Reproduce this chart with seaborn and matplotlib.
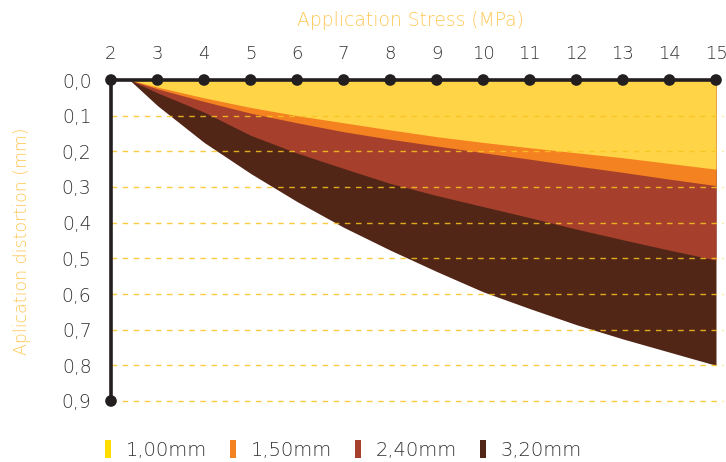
import numpy as np
import pandas as pd
import matplotlib
matplotlib.use("Agg")
import matplotlib.pyplot as plt
from matplotlib.patches import Patch
import seaborn as sns

# dados
stress = [2.4, 3, 4, 5, 6, 7, 8, 9, 10, 11, 12, 13, 14, 15]
dist_100 = [0, 0.02, 0.05, 0.077, 0.10, 0.12, 0.14, 0.159, 0.175, 0.19, 0.204, 0.218, 0.234, 0.25]
dist_150 = [0, 0.025, 0.06, 0.093, 0.12, 0.145, 0.166, 0.185, 0.204, 0.222, 0.241, 0.259, 0.278, 0.296]
dist_240 = [0, 0.036, 0.09, 0.155, 0.205, 0.248, 0.29, 0.324, 0.355, 0.386, 0.418, 0.448, 0.477, 0.505]
dist_320 = [0, 0.072, 0.175, 0.262, 0.341, 0.413, 0.477, 0.537, 0.594, 0.641, 0.686, 0.726, 0.763, 0.80]

series = ["1,00mm", "1,50mm", "2,40mm", "3,20mm"]
fill_colors = ["#FFD447", "#F58220", "#A6402C", "#522617"]
legend_colors = ["#FFDD00", "#F58220", "#A6402C", "#522617"]

x_ticks = list(range(2, 16))
y_ticks = [0.0, 0.1, 0.2, 0.3, 0.4, 0.5, 0.6, 0.7, 0.8, 0.9]
y_labels = ["0,0", "0,1", "0,2", "0,3", "0,4", "0,5", "0,6", "0,7", "0,8", "0,9"]

df = pd.DataFrame({"stress": stress, series[0]: dist_100, series[1]: dist_150,
                   series[2]: dist_240, series[3]: dist_320})

sns.set_theme(style="white")
plt.rcParams["font.family"] = ["DejaVu Sans"]
fw = 200  # DejaVu Sans ExtraLight

fig = plt.figure(figsize=(7.26, 4.62), dpi=100)
ax = fig.add_axes([111 / 726, 1 - 401 / 462, 605 / 726, 321 / 462])

# areas: da mais profunda para a mais rasa
for name, col in zip(series[::-1], fill_colors[::-1]):
    ax.fill_between(df["stress"], 0, df[name], color=col, linewidth=0, zorder=1)

# linhas tracejadas
for yv in y_ticks[1:]:
    ax.plot([2, 15.15], [yv, yv], color="#F9C320", lw=1, ls=(0, (4, 4)),
            alpha=0.85, zorder=2, clip_on=False)

# eixos com pontos
ax.plot([2, 15], [0, 0], color="#231F20", lw=2.6, zorder=3, clip_on=False, solid_capstyle="butt")
ax.plot([2, 2], [0, 0.9], color="#231F20", lw=2.6, zorder=3, clip_on=False, solid_capstyle="butt")
sns.scatterplot(x=x_ticks, y=[0] * len(x_ticks), ax=ax, color="#231F20", s=70,
                edgecolor="none", zorder=4, clip_on=False)
sns.scatterplot(x=[2], y=[0.9], ax=ax, color="#231F20", s=70,
                edgecolor="none", zorder=4, clip_on=False)

ax.set_xlim(2, 15)
ax.set_ylim(0.9, 0)
for sp in ax.spines.values():
    sp.set_visible(False)

ax.xaxis.tick_top()
ax.set_xticks(x_ticks)
ax.set_xticklabels([str(v) for v in x_ticks], fontweight=fw)
ax.set_yticks(y_ticks)
ax.set_yticklabels(y_labels, fontweight=fw)
ax.tick_params(axis="x", length=0, pad=12, labelsize=13, labelcolor="#333333")
ax.tick_params(axis="y", length=0, pad=14, labelsize=13.5, labelcolor="#333333")

fig.text(410 / 726, 1 - 21 / 462, "Application Stress (MPa)", ha="center",
         va="center", fontsize=13.5, color="#FFC857", fontweight=fw)
fig.text(22 / 726, 1 - 241 / 462, "Aplication distortion (mm)", ha="center", va="center",
         rotation=90, fontsize=12.5, color="#FFC857", fontweight=fw)

handles = [Patch(facecolor=c, edgecolor="none") for c in legend_colors]
leg = fig.legend(handles, series, loc="center left", bbox_to_anchor=(105 / 726, 1 - 450 / 462),
                 ncol=4, frameon=False, handlelength=0.3, handleheight=1.0,
                 handletextpad=0.75, columnspacing=1.2, borderpad=0, borderaxespad=0,
                 prop={"weight": fw, "size": 14})
for t in leg.get_texts():
    t.set_color("#333333")

fig.savefig("out.png", dpi=100)
